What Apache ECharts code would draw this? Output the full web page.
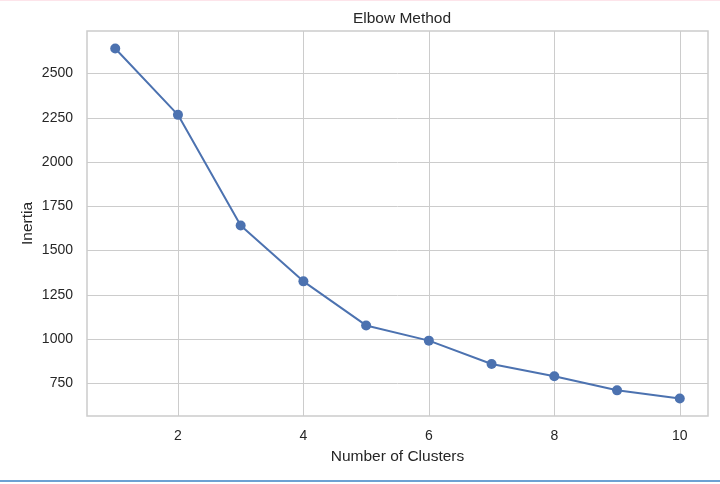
<!DOCTYPE html>
<html>
<head>
<meta charset="utf-8">
<script src="https://cdn.jsdelivr.net/npm/echarts@6/dist/echarts.min.js"></script>
<style>
  html, body { margin: 0; padding: 0; background: #fff; }
  #chart { width: 720px; height: 484px; }
</style>
</head>
<body>
<div id="chart"></div>
<script>
const clusters = [1, 2, 3, 4, 5, 6, 7, 8, 9, 10];
const inertia = [2642, 2267, 1642, 1326, 1077, 991, 859, 790, 710, 664];
const xTicks = [2, 4, 6, 8, 10];
const yTicks = [750, 1000, 1250, 1500, 1750, 2000, 2250, 2500];

const font = '"Liberation Sans", Arial, sans-serif';
const ink = '#262626';
const gridColor = '#cccccc';

const chart = echarts.init(document.getElementById('chart'));

chart.setOption({
  animation: false,
  title: {
    text: 'Elbow Method',
    left: 397,
    textAlign: 'center',
    top: 6,
    textStyle: { fontFamily: font, fontSize: 15.5, fontWeight: 'normal', color: ink }
  },
  grid: { left: 87, right: 12, top: 31, bottom: 68, containLabel: false },
  xAxis: {
    type: 'value',
    min: 0.55,
    max: 10.45,
    name: 'Number of Clusters',
    nameLocation: 'middle',
    nameGap: 33,
    nameMoveOverlap: false,
    nameTextStyle: { fontFamily: font, fontSize: 15.5, color: ink },
    axisLine: { show: false },
    axisTick: { show: false, customValues: xTicks },
    axisLabel: {
      customValues: xTicks,
      margin: 13,
      fontFamily: font, fontSize: 14, color: ink
    },
    splitLine: { show: true, lineStyle: { color: gridColor, width: 1 } }
  },
  yAxis: {
    type: 'value',
    min: 565,
    max: 2741,
    name: 'Inertia',
    nameLocation: 'middle',
    nameGap: 51,
    nameMoveOverlap: false,
    nameTextStyle: { fontFamily: font, fontSize: 15.5, color: ink },
    axisLine: { show: false },
    axisTick: { show: false, customValues: yTicks },
    axisLabel: {
      customValues: yTicks,
      margin: 14,
      formatter: v => String(v),
      fontFamily: font, fontSize: 14, color: ink
    },
    splitLine: { show: true, lineStyle: { color: gridColor, width: 1 } }
  },
  graphic: [
    {
      type: 'rect',
      shape: { x: 87, y: 31, width: 621, height: 385 },
      style: { fill: 'none', stroke: gridColor, lineWidth: 1.5 },
      silent: true,
      z: 10
    },
    {
      type: 'line',
      shape: { x1: 0, y1: 481, x2: 720, y2: 481 },
      style: { stroke: '#3b82c4', lineWidth: 1.5 },
      silent: true
    },
    {
      type: 'line',
      shape: { x1: 0, y1: 0.5, x2: 720, y2: 0.5 },
      style: { stroke: '#fde4ea', lineWidth: 1 },
      silent: true
    }
  ],
  series: [{
    type: 'line',
    data: clusters.map((c, i) => [c, inertia[i]]),
    symbol: 'circle',
    symbolSize: 10,
    itemStyle: { color: '#4c72b0' },
    lineStyle: { color: '#4c72b0', width: 2 },
    z: 20
  }]
});
</script>
</body>
</html>
